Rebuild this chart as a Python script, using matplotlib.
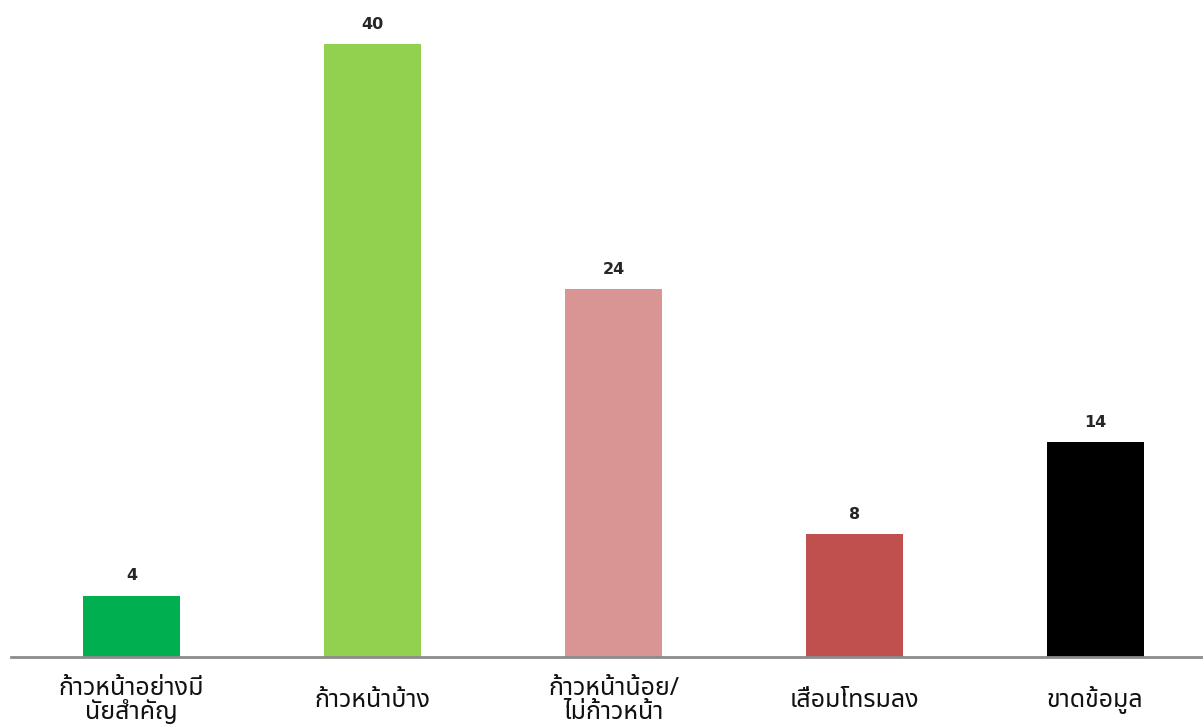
import matplotlib
matplotlib.use("Agg")
from matplotlib import pyplot, font_manager, ft2font

# DATA
categories = ['ก้าวหน้าอย่างมี\nนัยสำคัญ', 'ก้าวหน้าบ้าง', 'ก้าวหน้าน้อย/\nไม่ก้าวหน้า', 'เสื่อมโทรมลง', 'ขาดข้อมูล']
values = [4, 40, 24, 8, 14]
colours = ['#00b050', '#92d050', '#d99594', '#c0504d', '#000000']


def find_thai_font():
	# look for any installed font that has Thai glyphs
	preferred = ['Tahoma', 'Noto Sans Thai', 'Noto Sans Thai UI', 'Loma', 'Garuda', 'Norasi', 'Waree', 'Sarabun']
	found = []
	for f in font_manager.fontManager.ttflist:
		try:
			cmap = ft2font.FT2Font(f.fname).get_charmap()
		except Exception:
			continue
		if 0x0E01 in cmap and 0x0E49 in cmap:
			found.append(f.name)
	for p in preferred:
		if p in found:
			return p
	if found:
		return found[0]
	return None


thai = find_thai_font()
families = ([thai] if thai else []) + ['DejaVu Sans']
pyplot.rcParams['font.family'] = families

fig = pyplot.figure(figsize=(12.03, 7.25), dpi=100)
ax = fig.add_axes([11 / 1203.0, 68 / 725.0, 1205 / 1203.0, 657 / 725.0])

x = range(len(values))
ax.bar(x, values, width=0.4, color=colours)
# value labels above the bars
for i, v in enumerate(values):
	ax.text(i, v + 0.8, str(v), ha='center', va='bottom', fontsize=11.5, fontweight='bold',
			family='DejaVu Sans', color='#262626')

ax.set_xlim(-0.5, 4.5)
ax.set_ylim(0, 42.87)
ax.set_xticks(list(x))
ax.set_xticklabels(categories, fontsize=18, color='#111111', linespacing=0.95)
for lab in ax.get_xticklabels():
	lab.set_verticalalignment('center')
ax.tick_params(axis='x', length=0, pad=31)
ax.set_yticks([])
for s in ['top', 'right', 'left']:
	ax.spines[s].set_visible(False)
ax.spines['bottom'].set_color('#8c8c8c')
ax.spines['bottom'].set_linewidth(2)

fig.savefig('out.png', dpi=100)
